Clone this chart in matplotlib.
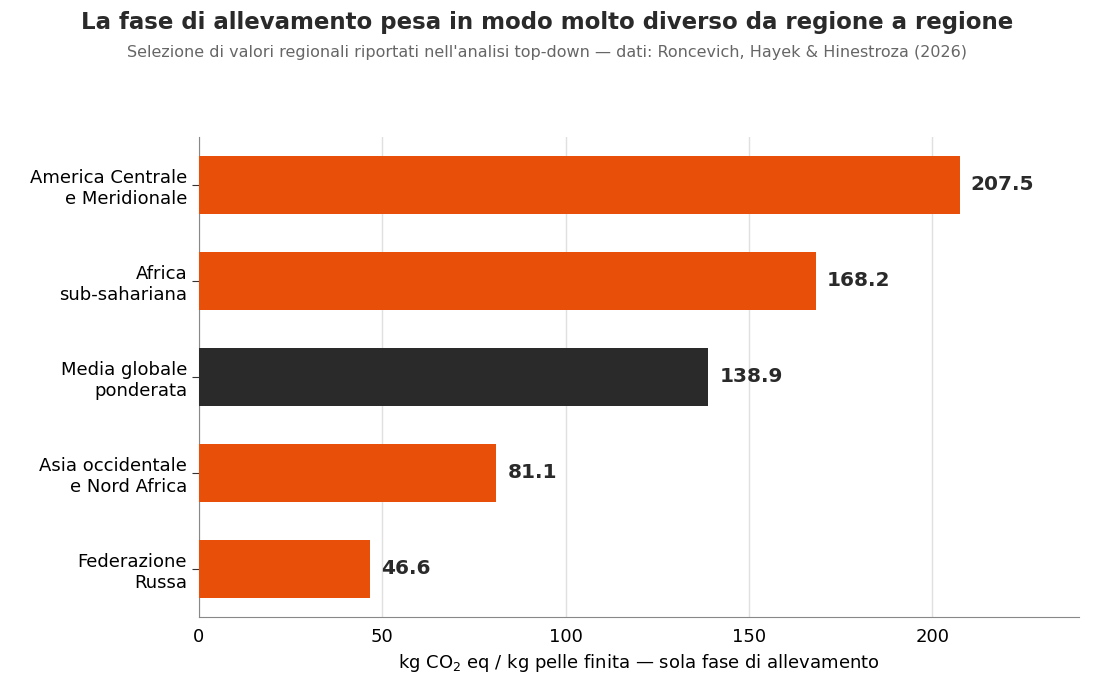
import matplotlib
matplotlib.use("Agg")
import matplotlib.pyplot as plt

regioni = ["America Centrale\ne Meridionale", "Africa\nsub-sahariana", "Media globale\nponderata",
           "Asia occidentale\ne Nord Africa", "Federazione\nRussa"]
valori = [207.5, 168.2, 138.9, 81.1, 46.6]
colori = ["#E8500A", "#E8500A", "#2A2A2A", "#E8500A", "#E8500A"]

fig = plt.figure(figsize=(10.94, 6.89), dpi=100)
ax = fig.add_axes([199/1094, 1-617/689, 880/1094, 480/689])

y = list(range(len(regioni)))[::-1]
ax.barh(y, valori, color=colori, height=0.6, zorder=3)
for yi, v in zip(y, valori):
    ax.text(v + 3, yi, f"{v:.1f}", va="center", ha="left", fontsize=14.5,
            fontweight="bold", color="#2A2A2A")

ax.set_yticks(y)
ax.set_yticklabels(regioni, fontsize=13)
ax.set_xlim(0, 240)
ax.set_ylim(-0.5, 4.5)
ax.set_xticks([0, 50, 100, 150, 200])
ax.tick_params(axis="x", labelsize=13, length=0, pad=8)
ax.tick_params(axis="y", length=5, color="#333333")
ax.grid(axis="x", color="#E0E0E0", linewidth=1, zorder=0)
for s in ["top", "right"]:
    ax.spines[s].set_visible(False)
for s in ["left", "bottom"]:
    ax.spines[s].set_color("#888888")
ax.set_xlabel("kg CO$_2$ eq / kg pelle finita — sola fase di allevamento", fontsize=13)

fig.text(0.5, 1-22/689, "La fase di allevamento pesa in modo molto diverso da regione a regione",
         ha="center", va="center", fontsize=16.5, fontweight="bold", color="#2A2A2A")
fig.text(0.5, 1-53/689, "Selezione di valori regionali riportati nell'analisi top-down — dati: Roncevich, Hayek & Hinestroza (2026)",
         ha="center", va="center", fontsize=11.5, color="#666666")

fig.savefig("out.png", dpi=100)
